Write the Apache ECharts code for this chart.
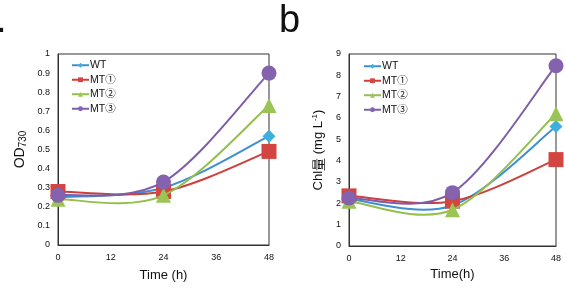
<!DOCTYPE html>
<html lang="en">
<head>
  <meta charset="UTF-8">
  <title>Growth</title>
  <script src="https://cdn.jsdelivr.net/npm/echarts@6/dist/echarts.min.js"></script>
  <style>
    body { margin: 0; background: #fff; }
    #main { width: 565px; height: 298px; }
  </style>
</head>
<body>
  <div id="main"></div>
  <script>
    const hours = [0, 24, 48]
    const names = ['WT', 'MT①', 'MT②', 'MT③']

    // OD730 (panel a)
    const odWT = [0.25, 0.30, 0.57]
    const odMT1 = [0.28, 0.28, 0.49]
    const odMT2 = [0.24, 0.26, 0.73]
    const odMT3 = [0.26, 0.33, 0.90]

    // Chl (panel b)
    const chlWT = [2.2, 1.9, 5.6]
    const chlMT1 = [2.35, 2.1, 4.05]
    const chlMT2 = [2.1, 1.7, 6.2]
    const chlMT3 = [2.25, 2.5, 8.45]

    const lineColors = ['#3e8fd2', '#cc3f3c', '#94be4e', '#7e5ea8']
    const markColors = ['#3fb0dc', '#d34541', '#9bc455', '#8462ad']
    const symbols = ['diamond', 'rect', 'triangle', 'circle']
    const sizes = [13, 15, 15, 15]

    const FONT = '"Liberation Sans", "Noto Sans CJK JP", sans-serif'

    const pair = ys => ys.map((y, i) => [hours[i], y])

    // smoothed line like the spreadsheet one: catmull-rom segments, drawn in pixel space
    function curve(ys, idx, color, z) {
      return {
        type: 'custom',
        xAxisIndex: idx,
        yAxisIndex: idx,
        data: pair(ys),
        z: z,
        silent: true,
        renderItem(params, api) {
          const i = params.dataIndex
          if (i >= ys.length - 1) return
          const pts = ys.map((y, k) => api.coord([hours[k], y]))
          const a = pts[Math.max(i - 1, 0)]
          const b = pts[i]
          const c = pts[i + 1]
          const d = pts[Math.min(i + 2, pts.length - 1)]
          return {
            type: 'bezierCurve',
            shape: {
              x1: b[0], y1: b[1], x2: c[0], y2: c[1],
              cpx1: b[0] + (c[0] - a[0]) / 6, cpy1: b[1] + (c[1] - a[1]) / 6,
              cpx2: c[0] - (d[0] - b[0]) / 6, cpy2: c[1] - (d[1] - b[1]) / 6
            },
            style: { stroke: color, lineWidth: 2, fill: null }
          }
        }
      }
    }

    function makeSeries(sets, idx) {
      const out = []
      sets.forEach((ys, i) => {
        out.push(curve(ys, idx, lineColors[i], 2 + i))
        out.push({
          name: names[i],
          type: 'line',
          xAxisIndex: idx,
          yAxisIndex: idx,
          data: pair(ys),
          symbol: symbols[i],
          symbolSize: sizes[i],
          lineStyle: { opacity: 0 },
          itemStyle: { color: markColors[i] },
          z: 2 + i
        })
      })
      return out
    }

    const chart = echarts.init(document.getElementById('main'))

    const tickLabel = { color: '#111', fontSize: 9, fontFamily: FONT }

    const xAxisBase = {
      type: 'value', min: 0, max: 48, interval: 12,
      axisLine: { show: true, lineStyle: { color: '#333' } },
      axisTick: { show: false },
      splitLine: { show: false },
      axisLabel: { ...tickLabel, margin: 8 },
      nameLocation: 'middle',
      nameTextStyle: { color: '#111', fontSize: 13, fontFamily: FONT }
    }
    const yAxisBase = {
      type: 'value', min: 0,
      axisLine: { show: true, lineStyle: { color: '#333' } },
      axisTick: { show: false },
      splitLine: { show: false },
      axisLabel: { ...tickLabel, margin: 8 },
      nameLocation: 'middle',
      nameRotate: 90
    }

    const legendBase = {
      orient: 'vertical',
      itemWidth: 17,
      itemHeight: 6,
      itemGap: 4,
      textStyle: { color: '#111', fontSize: 10.5, fontFamily: FONT, padding: [0, 0, 0, -4] },
      data: names.map((n, i) => ({ name: n, lineStyle: { color: lineColors[i], width: 2, opacity: 1 } }))
    }

    const option = {
      animation: false,
      grid: [
        { left: 58, top: 54, width: 211, height: 191, show: true, borderColor: '#333', borderWidth: 1 },
        { left: 349, top: 54, width: 207, height: 192, show: true, borderColor: '#333', borderWidth: 1 }
      ],
      legend: [
        { ...legendBase, left: 66, top: 55 },
        { ...legendBase, left: 358, top: 56 }
      ],
      xAxis: [
        { ...xAxisBase, gridIndex: 0, name: 'Time (h)', nameGap: 24 },
        { ...xAxisBase, gridIndex: 1, name: 'Time(h)', nameGap: 22 }
      ],
      yAxis: [
        {
          ...yAxisBase, gridIndex: 0, max: 1, interval: 0.1, nameGap: 30,
          name: '{m|OD}{s|730}',
          nameTextStyle: {
            rich: {
              m: { fontSize: 14, color: '#111', fontFamily: FONT },
              s: { fontSize: 10, color: '#111', fontFamily: FONT, verticalAlign: 'bottom', padding: [6, 0, 0, 0] }
            }
          }
        },
        {
          ...yAxisBase, gridIndex: 1, max: 9, interval: 1, nameGap: 24,
          name: '{m|Chl}{c|量}{m| (mg L}{s|-1}{m|)}',
          nameTextStyle: {
            rich: {
              m: { fontSize: 13, color: '#111', fontFamily: FONT },
              c: { fontSize: 13, color: '#111', fontFamily: '"Noto Sans CJK JP"' },
              s: { fontSize: 8, color: '#111', fontFamily: FONT, verticalAlign: 'top', padding: [0, 0, 6, 0] }
            }
          }
        }
      ],
      graphic: [
        { type: 'text', left: 279, top: 3, style: { text: 'b', fontSize: 38, fontFamily: FONT, fill: '#111' } },
        { type: 'text', left: -4, top: 3, style: { text: '.', fontSize: 38, fontFamily: FONT, fill: '#111' } }
      ],
      series: [
        ...makeSeries([odWT, odMT1, odMT2, odMT3], 0),
        ...makeSeries([chlWT, chlMT1, chlMT2, chlMT3], 1)
      ]
    }

    chart.setOption(option)
  </script>
</body>
</html>
